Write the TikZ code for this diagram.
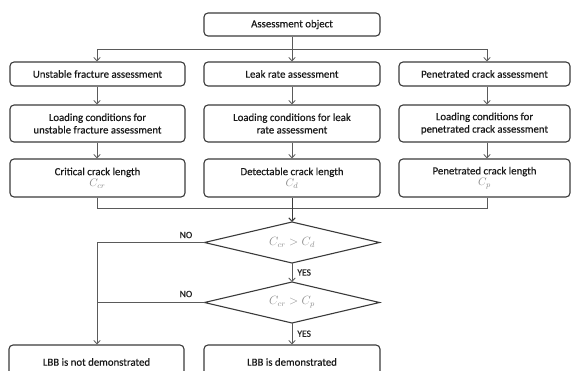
\documentclass[tikz,border=0pt]{standalone}
\usepackage{fontspec}
\setmainfont{Carlito}[FakeBold=0.5]
\usetikzlibrary{arrows.meta,shapes.geometric}
\definecolor{boxline}{HTML}{3A3A3A}
\definecolor{conn}{HTML}{5A5A5A}
\definecolor{symb}{HTML}{8A8A8A}
\begin{document}
\begin{tikzpicture}[x=1pt,y=-1pt,
  font=\fontsize{10.8}{12.5}\selectfont,
  stepbox/.style={draw=boxline,line width=1.1pt,rounded corners=4pt,
    rectangle,inner sep=1pt,align=center,text=black!90},
  decide/.style={draw=boxline,line width=1.1pt,diamond,inner sep=0pt,
    outer sep=0pt,aspect=4.27,minimum width=175pt,minimum height=41pt,
    text=symb,font=\fontsize{11.5}{13}\selectfont},
  link/.style={draw=conn,line width=0.8pt},
  flow/.style={link,-{Straight Barb[length=3.5pt,width=6.5pt]}},
  tag/.style={font=\fontsize{9.5}{11}\selectfont,text=black!85,inner sep=0pt}]
\useasboundingbox (0,0) rectangle (571,370);
\clip (0,0) rectangle (571,370);

% column guides
\coordinate (colA) at (97,0);
\coordinate (colB) at (292,0);
\coordinate (colC) at (487,0);

% start
\node[stepbox,minimum width=176pt,minimum height=23pt] (obj) at (292,24.5) {Assessment object};

% first row: the three assessments
\node[stepbox,minimum width=175pt,minimum height=24pt] (a1) at (97.5,74) {Unstable fracture assessment};
\node[stepbox,minimum width=176pt,minimum height=24pt] (b1) at (292,74) {Leak rate assessment};
\node[stepbox,minimum width=171pt,minimum height=24pt] (c1) at (484.5,74) {Penetrated crack assessment};

% second row: loading conditions
\node[stepbox,minimum width=175pt,minimum height=37pt] (a2) at (97.5,123.5) {Loading conditions for\\unstable fracture assessment};
\node[stepbox,minimum width=176pt,minimum height=37pt] (b2) at (292,123.5) {Loading conditions for leak\\rate assessment};
\node[stepbox,minimum width=171pt,minimum height=37pt] (c2) at (484.5,123.5) {Loading conditions for\\penetrated crack assessment};

% third row: crack lengths
\node[stepbox,minimum width=175pt,minimum height=38pt] (a3) at (97.5,178) {Critical crack length\\[-1pt]\textcolor{symb}{$C_{cr}$}};
\node[stepbox,minimum width=176pt,minimum height=38pt] (b3) at (292,178) {Detectable crack length\\[-1pt]\textcolor{symb}{$C_{d}$}};
\node[stepbox,minimum width=171pt,minimum height=38pt] (c3) at (484.5,178) {Penetrated crack length\\[-1pt]\textcolor{symb}{$C_{p}$}};

% decisions
\node[decide] (d1) at (292,242.5) {$C_{cr} > C_{d}$};
\node[decide] (d2) at (292,302.5) {$C_{cr} > C_{p}$};

% outcomes
\node[stepbox,minimum width=175pt,minimum height=34pt] (no) at (96.5,362) {LBB is not demonstrated};
\node[stepbox,minimum width=176pt,minimum height=34pt] (yes) at (292,362) {LBB is demonstrated};

% split below the start box
\coordinate (split) at (292,49);
\draw[link] (obj.south) -- (split);
\draw[link] (split -| colA) -- (split -| colC);
\draw[flow] (split -| colA) -- (a1.north -| colA);
\draw[flow] (split) -- (b1.north);
\draw[flow] (split -| colC) -- (c1.north -| colC);

% down each column
\draw[flow] (a1.south -| colA) -- (a2.north -| colA);
\draw[flow] (a2.south -| colA) -- (a3.north -| colA);
\draw[flow] (b1.south) -- (b2.north);
\draw[flow] (b2.south) -- (b3.north);
\draw[flow] (c1.south -| colC) -- (c2.north -| colC);
\draw[flow] (c2.south -| colC) -- (c3.north -| colC);

% merge into the first decision
\coordinate (merge) at (292,208);
\draw[link] (a3.south -| colA) -- (merge -| colA) -- (merge -| colC) -- (c3.south -| colC);
\draw[link,draw=boxline,line width=1pt,-{Straight Barb[length=3.5pt,width=6.5pt]}] (b3.south) -- (d1.north);

% decision branches
\draw[flow] (d1.south) -- node[tag,anchor=west,xshift=5pt] {YES} (d2.north);
\draw[flow] (d2.south) -- node[tag,anchor=west,xshift=5pt] {YES} (yes.north);
\draw[flow] (d1.west) -- (d1.west -| colA) -- (no.north -| colA);
\draw[link] (d2.west) -- (d2.west -| colA);
\node[tag] (no1) at (186,235) {NO};
\node[tag] (no2) at (186,294) {NO};
\end{tikzpicture}
\end{document}
